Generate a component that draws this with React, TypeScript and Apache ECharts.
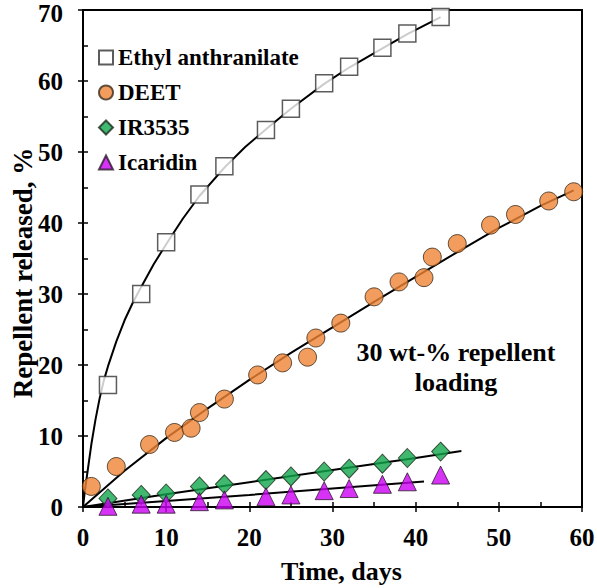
import React, { useEffect, useRef } from "react";
import * as echarts from "echarts";

const seriesNames = ["Ethyl anthranilate", "DEET", "IR3535", "Icaridin"];

const ethylDays = [3, 7, 10, 14, 17, 22, 25, 29, 32, 36, 39, 43];
const ethylValues = [17.2, 30, 37.3, 44, 48, 53.1, 56.1, 59.7, 62, 64.7, 66.7, 69];

const deetDays = [1, 4, 8, 11, 13, 14, 17, 21, 24, 27, 28, 31, 35, 38, 41, 42, 45, 49, 52, 56, 59];
const deetValues = [2.9, 5.7, 8.8, 10.5, 11.1, 13.3, 15.2, 18.6, 20.3, 21.1, 23.8, 25.9, 29.6, 31.7, 32.3, 35.2, 37.1, 39.7, 41.2, 43.1, 44.4];

const ir3535Days = [3, 7, 10, 14, 17, 22, 25, 29, 32, 36, 39, 43];
const ir3535Values = [1.2, 1.7, 1.9, 2.9, 3.2, 3.8, 4.3, 5.0, 5.4, 6.1, 6.9, 7.8];

const icaridinDays = [3, 7, 10, 14, 17, 22, 25, 29, 32, 36, 39, 43];
const icaridinValues = [0.1, 0.4, 0.4, 0.75, 1.0, 1.45, 1.7, 2.3, 2.6, 3.2, 3.55, 4.5];

// fitted trend lines
const ethylFitDays = [0, 0.25, 0.5, 1, 1.5, 2, 2.5, 3, 4, 5, 6, 7, 8.5, 10, 12, 14, 17, 19.5, 22, 25, 29, 32, 36, 39, 43];
const ethylFitValues = [0, 2.5, 4.6, 8.8, 12.3, 15.3, 17.8, 19.8, 23.3, 26.3, 28.8, 31, 34.2, 37, 40.6, 43.8, 47.8, 50.7, 53.2, 56.1, 59.6, 61.9, 64.6, 66.6, 69];
const deetFitDays = [0, 5, 10, 15, 20, 25, 30, 35, 40, 45, 50, 55, 59];
const deetFitValues = [0, 5.1, 9.7, 13.9, 17.9, 21.7, 25.3, 28.9, 32.4, 35.9, 39.3, 42.4, 44.6];
const ir3535FitDays = [0, 10, 20, 30, 40, 45.5];
const ir3535FitValues = [0, 1.8, 3.5, 5.2, 6.9, 7.9];
const icaridinFitDays = [0, 10, 20, 30, 41];
const icaridinFitValues = [0, 0.85, 1.7, 2.6, 3.6];

const xAxisRange = { min: 0, max: 60, interval: 10 };
const yAxisRange = { min: 0, max: 70, interval: 10 };

const xTitle = "Time, days";
const yTitle = "Repellent released, %";
const noteText = "30 wt-% repellent\nloading";

const FONT = "Liberation Serif";

const zip = (xs: number[], ys: number[]) => xs.map((x, i) => [x, ys[i]]);

export default function App() {
  const ref = useRef<HTMLDivElement>(null);
  useEffect(() => {
    if (!ref.current) return;
    const chart = echarts.init(ref.current, undefined, { renderer: "svg" });
    const axisLine = { show: true, lineStyle: { color: "#000", width: 2 } };
    const tickStyle = { color: "#000", width: 1.5 };
    const fitLine = (xs: number[], ys: number[]) => ({
      type: "line",
      data: zip(xs, ys),
      showSymbol: false,
      symbol: "none",
      smooth: false,
      lineStyle: { color: "#000", width: 2 },
      silent: true,
      z: 1,
    });
    const scatterBase = { type: "scatter", z: 3 };
    const labelFont = { fontFamily: FONT, fontWeight: "bold", fontSize: 25, color: "#000" };
    chart.setOption({
      animation: false,
      backgroundColor: "#fff",
      textStyle: { fontFamily: FONT },
      grid: {
        left: 83,
        right: 15,
        top: 10,
        bottom: 81,
        containLabel: false,
        outerBoundsMode: "none",
        show: true,
        borderColor: "#000",
        borderWidth: 2,
        backgroundColor: "transparent",
      },
      legend: {
        data: seriesNames,
        orient: "vertical",
        left: 93,
        top: 41,
        itemWidth: 14,
        itemHeight: 14,
        itemGap: 12,
        textStyle: { fontFamily: FONT, fontWeight: "bold", fontSize: 23, color: "#000" },
      },
      xAxis: [
        {
          type: "value",
          ...xAxisRange,
          name: xTitle,
          nameLocation: "middle",
          nameGap: 51,
          nameTextStyle: { fontFamily: FONT, fontWeight: "bold", fontSize: 26, color: "#000", padding: [0, 0, 0, 18] },
          axisLine,
          axisTick: { show: true, inside: false, length: 5, lineStyle: tickStyle },
          axisLabel: { ...labelFont, margin: 18 },
          splitLine: { show: false },
        },
        {
          type: "value",
          ...xAxisRange,
          position: "bottom",
          axisLine,
          axisTick: { show: true, inside: true, length: 5, lineStyle: tickStyle },
          minorTick: { show: true, splitNumber: 2, length: 5, lineStyle: tickStyle },
          axisLabel: { show: false },
          splitLine: { show: false },
        },
      ],
      yAxis: [
        {
          type: "value",
          ...yAxisRange,
          axisLine,
          axisTick: { show: true, inside: false, length: 5, lineStyle: tickStyle },
          axisLabel: {
            ...labelFont,
            margin: 20,
            formatter: (v: number) => (v === yAxisRange.max ? `{top|${v}}` : `${v}`),
            rich: { top: { ...labelFont, padding: [6, 0, 0, 0] } },
          },
          splitLine: { show: false },
        },
        {
          type: "value",
          ...yAxisRange,
          position: "left",
          axisLine,
          axisTick: { show: true, inside: true, length: 5, lineStyle: tickStyle },
          minorTick: { show: true, splitNumber: 2, length: 5, lineStyle: tickStyle },
          axisLabel: { show: false },
          splitLine: { show: false },
        },
      ],
      graphic: [
        {
          type: "text",
          x: 23,
          y: 273,
          rotation: Math.PI / 2,
          style: {
            text: yTitle,
            font: "bold 27px Liberation Serif",
            fill: "#000",
            textAlign: "center",
            textVerticalAlign: "middle",
          },
          z: 10,
        },
        {
          type: "text",
          x: 456,
          y: 367,
          style: {
            text: noteText,
            font: "bold 26px Liberation Serif",
            lineHeight: 30,
            fill: "#000",
            textAlign: "center",
            textVerticalAlign: "middle",
          },
          z: 10,
        },
      ],
      series: [
        fitLine(ethylFitDays, ethylFitValues),
        fitLine(deetFitDays, deetFitValues),
        fitLine(ir3535FitDays, ir3535FitValues),
        fitLine(icaridinFitDays, icaridinFitValues),
        {
          ...scatterBase,
          name: seriesNames[0],
          data: zip(ethylDays, ethylValues),
          symbol: "rect",
          symbolSize: 17,
          itemStyle: { color: "#fff", borderColor: "#333", borderWidth: 1.5 },
        },
        {
          ...scatterBase,
          name: seriesNames[1],
          data: zip(deetDays, deetValues),
          symbol: "circle",
          symbolSize: 18,
          itemStyle: { color: "#EF8535", borderColor: "#3a2a1a", borderWidth: 1 },
        },
        {
          ...scatterBase,
          name: seriesNames[2],
          data: zip(ir3535Days, ir3535Values),
          symbol: "diamond",
          symbolSize: [18, 19],
          itemStyle: { color: "#10A64C", borderColor: "#1a2a1a", borderWidth: 1 },
        },
        {
          ...scatterBase,
          name: seriesNames[3],
          data: zip(icaridinDays, icaridinValues),
          symbol: "triangle",
          symbolSize: [18, 18],
          itemStyle: { color: "#CC00F5", borderColor: "#2a1a2a", borderWidth: 1 },
        },
      ],
    });
    return () => chart.dispose();
  }, []);
  return <div ref={ref} style={{ width: 597, height: 588, position: "absolute", left: 0, top: 0 }} />;
}
